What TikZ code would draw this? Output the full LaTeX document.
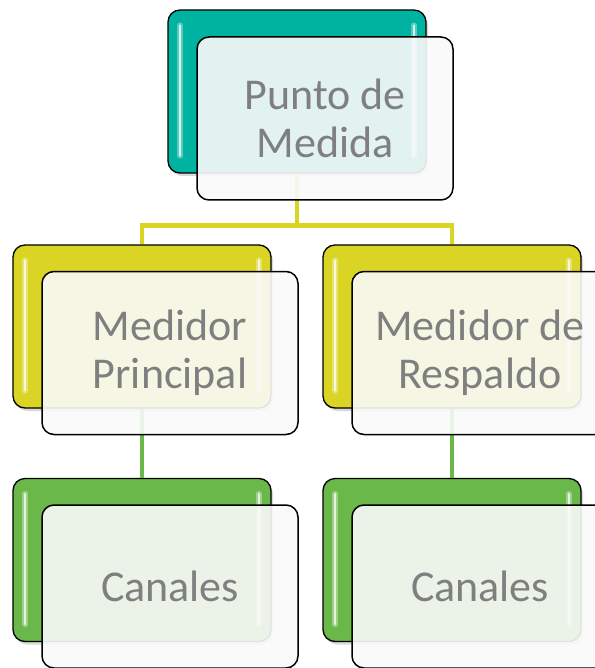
\documentclass[tikz,border=0pt]{standalone}
\usepackage{fontspec}
\setmainfont{Carlito}
\usetikzlibrary{shadows,calc}
\definecolor{teal1}{HTML}{00B2A0}
\definecolor{yel1}{HTML}{DAD424}
\definecolor{grn1}{HTML}{6AB74A}
\definecolor{txtgray}{HTML}{7F7F7F}
\begin{document}
\begin{tikzpicture}[x=1pt,y=-1pt,
  backbox/.style={draw=black, line width=1.3pt, rounded corners=12pt,
    minimum width=258pt, minimum height=163pt, inner sep=0pt,
    drop shadow={shadow xshift=2pt,shadow yshift=-3pt,opacity=0.3}},
  frontbox/.style={draw=black, line width=1.5pt, rounded corners=12pt,
    minimum width=256pt, minimum height=163pt, inner sep=0pt,
    fill=white!98!black, fill opacity=0.9, text opacity=1, text=txtgray,
    font=\fontsize{44}{48}\selectfont, align=center},
  link/.style={line width=4.5pt},
  glossA/.style={line width=6pt, line cap=round, draw=white, opacity=0.35},
  glossB/.style={line width=2.2pt, line cap=round, draw=white, opacity=0.75}]
\useasboundingbox (0,0) rectangle (594,668);

% back boxes
\node[backbox, fill=teal1] (pb) at (297,91.5) {};
\node[backbox, fill=yel1] (lb) at (142,326.5) {};
\node[backbox, fill=yel1] (rb) at (452,326.5) {};
\node[backbox, fill=grn1] (lcb) at (142,560) {};
\node[backbox, fill=grn1] (rcb) at (452,560) {};

% connectors
\draw[link, yel1] (pb.south) -- ++(0,52) coordinate (jn) -| (lb.north);
\draw[link, yel1] (jn) -| (rb.north);
\draw[link, grn1] (lb.south) -- (lcb.north);
\draw[link, grn1] (rb.south) -- (rcb.north);

% gloss strips
\foreach \b in {pb,lb,rb,lcb,rcb}{
  \draw[glossA] ($(\b.north west)+(13,16)$) -- ($(\b.south west)+(13,-18)$);
  \draw[glossB] ($(\b.north west)+(13,16)$) -- ($(\b.south west)+(13,-18)$);
  \draw[glossA] ($(\b.north east)+(-13,16)$) -- ($(\b.south east)+(-13,-18)$);
  \draw[glossB] ($(\b.north east)+(-13,16)$) -- ($(\b.south east)+(-13,-18)$);
}

% front boxes
\node[frontbox] (pf) at (325,118.5) {Punto de\\Medida};
\node[frontbox] (lf) at (170,353) {Medidor\\Principal};
\node[frontbox] (rf) at (480,353) {Medidor de\\Respaldo};
\node[frontbox] (lcf) at (170,586.5) {Canales};
\node[frontbox] (rcf) at (480,586.5) {Canales};
\end{tikzpicture}
\end{document}
